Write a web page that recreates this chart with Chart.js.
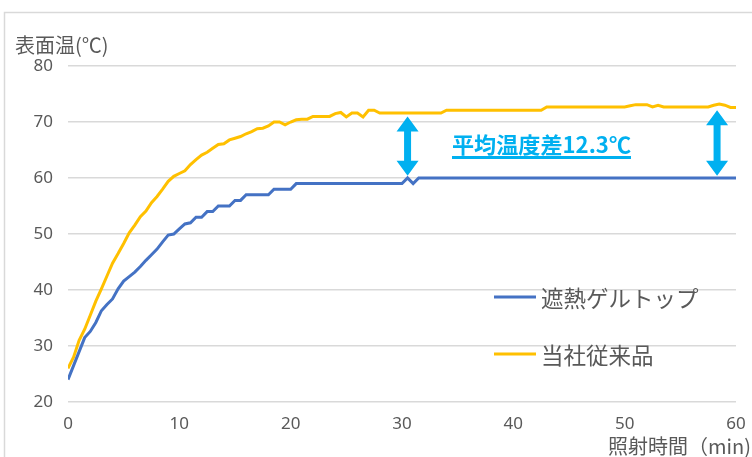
<!DOCTYPE html>
<html>
<head>
<meta charset="utf-8">
<script src="https://cdn.jsdelivr.net/npm/chart.js@4"></script>
<style>
  html, body { margin: 0; padding: 0; background: #fff; }
  #wrap { position: relative; width: 752px; height: 457px; }
</style>
</head>
<body>
<div id="wrap"><canvas id="chart" width="752" height="457"></canvas></div>
<script>
// 照射時間 (min) 0.5分刻み
const times = [
  0, 0.5, 1, 1.5, 2, 2.5, 3, 3.5, 4, 4.5,
  5, 5.5, 6, 6.5, 7, 7.5, 8, 8.5, 9, 9.5,
  10, 10.5, 11, 11.5, 12, 12.5, 13, 13.5, 14, 14.5,
  15, 15.5, 16, 16.5, 17, 17.5, 18, 18.5, 19, 19.5,
  20, 20.5, 21, 21.5, 22, 22.5, 23, 23.5, 24, 24.5,
  25, 25.5, 26, 26.5, 27, 27.5, 28, 28.5, 29, 29.5,
  30, 30.5, 31, 31.5, 32, 32.5, 33, 33.5, 34, 34.5,
  35, 35.5, 36, 36.5, 37, 37.5, 38, 38.5, 39, 39.5,
  40, 40.5, 41, 41.5, 42, 42.5, 43, 43.5, 44, 44.5,
  45, 45.5, 46, 46.5, 47, 47.5, 48, 48.5, 49, 49.5,
  50, 50.5, 51, 51.5, 52, 52.5, 53, 53.5, 54, 54.5,
  55, 55.5, 56, 56.5, 57, 57.5, 58, 58.5, 59, 59.5,
  60
];

// 遮熱ゲルトップ
const gelTop = [
  24, 26.5, 29, 31.5, 32.6, 34.2, 36.3, 37.4, 38.4, 40.2,
  41.6, 42.4, 43.2, 44.2, 45.3, 46.3, 47.3, 48.6, 49.8, 50,
  50.9, 51.8, 52, 53, 53, 54, 54, 55, 55, 55,
  56, 56, 57, 57, 57, 57, 57, 58, 58, 58,
  58, 59, 59, 59, 59, 59, 59, 59, 59, 59,
  59, 59, 59, 59, 59, 59, 59, 59, 59, 59,
  59, 60, 59, 60, 60, 60, 60, 60, 60, 60,
  60, 60, 60, 60, 60, 60, 60, 60, 60, 60,
  60, 60, 60, 60, 60, 60, 60, 60, 60, 60,
  60, 60, 60, 60, 60, 60, 60, 60, 60, 60,
  60, 60, 60, 60, 60, 60, 60, 60, 60, 60,
  60, 60, 60, 60, 60, 60, 60, 60, 60, 60,
  60
];

// 当社従来品
const conventional = [
  26, 28, 31, 33, 35.5, 38, 40.2, 42.5, 44.8, 46.5,
  48.3, 50.2, 51.6, 53.1, 54.1, 55.6, 56.7, 58, 59.4, 60.3,
  60.8, 61.3, 62.4, 63.3, 64.1, 64.6, 65.3, 66, 66.1, 66.8,
  67.1, 67.4, 67.9, 68.3, 68.8, 68.9, 69.3, 70, 70, 69.5,
  70, 70.4, 70.5, 70.5, 71, 71, 71, 71, 71.5, 71.7,
  70.9, 71.6, 71.6, 70.9, 72.1, 72.1, 71.6, 71.6, 71.6, 71.6,
  71.6, 71.6, 71.6, 71.6, 71.6, 71.6, 71.6, 71.6, 72.1, 72.1,
  72.1, 72.1, 72.1, 72.1, 72.1, 72.1, 72.1, 72.1, 72.1, 72.1,
  72.1, 72.1, 72.1, 72.1, 72.1, 72.1, 72.7, 72.7, 72.7, 72.7,
  72.7, 72.7, 72.7, 72.7, 72.7, 72.7, 72.7, 72.7, 72.7, 72.7,
  72.7, 72.9, 73.1, 73.1, 73.1, 72.7, 73, 72.7, 72.7, 72.7,
  72.7, 72.7, 72.7, 72.7, 72.7, 72.7, 73, 73.2, 73, 72.6,
  72.6
];

const seriesNames = ['遮熱ゲルトップ', '当社従来品'];
const xTicks = [0, 10, 20, 30, 40, 50, 60];
const yTicks = [20, 30, 40, 50, 60, 70, 80];

// 温度差の矢印 (時間, 上端温度, 下端温度)
const arrowTimes = [30.5, 58.3];
const arrowTops = [71.0, 72.1];
const arrowBottoms = [60.4, 60.4];
const diffLabel = '平均温度差12.3℃';

const BLUE = '#4472C4';
const ORANGE = '#FFC000';
const CYAN = '#00B0F0';
const GRAY = '#595959';
const GRID = '#d9d9d9';

function toPoints(values) {
    return times.map((t, i) => ({ x: t, y: values[i] }));
}

function drawArrow(ctx, x, yTop, yBottom) {
    const shaft = 3.5, head = 11, headLen = 15;
    ctx.beginPath();
    ctx.moveTo(x, yTop);
    ctx.lineTo(x + head, yTop + headLen);
    ctx.lineTo(x + shaft, yTop + headLen);
    ctx.lineTo(x + shaft, yBottom - headLen);
    ctx.lineTo(x + head, yBottom - headLen);
    ctx.lineTo(x, yBottom);
    ctx.lineTo(x - head, yBottom - headLen);
    ctx.lineTo(x - shaft, yBottom - headLen);
    ctx.lineTo(x - shaft, yTop + headLen);
    ctx.lineTo(x - head, yTop + headLen);
    ctx.closePath();
    ctx.fill();
}

const decorPlugin = {
    id: 'decor',
    beforeDraw(chart) {
        const ctx = chart.ctx;
        ctx.save();
        // 枠線
        ctx.strokeStyle = GRID;
        ctx.lineWidth = 1.5;
        ctx.beginPath();
        ctx.moveTo(4.5, 470);
        ctx.lineTo(4.5, 12.5);
        ctx.lineTo(760, 12.5);
        ctx.stroke();
        ctx.restore();
    },
    afterDatasetsDraw(chart) {
        const ctx = chart.ctx;
        const xs = chart.scales.x;
        const ys = chart.scales.y;
        ctx.save();

        // 軸タイトル
        ctx.fillStyle = GRAY;
        ctx.font = '20px "Noto Sans CJK JP"';
        ctx.textBaseline = 'middle';
        ctx.textAlign = 'left';
        ctx.fillText('表面温(℃)', 15, 45);
        ctx.textAlign = 'right';
        ctx.fillText('照射時間（min)', 751, 446);

        // 凡例
        const legendColors = [BLUE, ORANGE];
        const legendY = [297, 354];
        ctx.font = '22.5px "Noto Sans CJK JP"';
        ctx.textAlign = 'left';
        seriesNames.forEach((name, i) => {
            ctx.strokeStyle = legendColors[i];
            ctx.lineWidth = 3;
            ctx.beginPath();
            ctx.moveTo(494, legendY[i]);
            ctx.lineTo(536, legendY[i]);
            ctx.stroke();
            ctx.fillStyle = GRAY;
            ctx.fillText(name, 541, legendY[i] + 1);
        });

        // 温度差の矢印
        ctx.fillStyle = CYAN;
        arrowTimes.forEach((t, i) => {
            drawArrow(ctx, xs.getPixelForValue(t),
                ys.getPixelForValue(arrowTops[i]),
                ys.getPixelForValue(arrowBottoms[i]));
        });

        // 注記テキスト
        ctx.font = 'bold 22px "Noto Sans CJK JP"';
        ctx.textAlign = 'left';
        ctx.textBaseline = 'middle';
        const tx = 452, ty = 145;
        const w = ctx.measureText(diffLabel).width;
        const scale = 179 / w;
        ctx.translate(tx, ty);
        ctx.scale(scale, 1);
        ctx.fillText(diffLabel, 0, 0);
        ctx.setTransform(1, 0, 0, 1, 0, 0);
        ctx.fillRect(tx, 156, 179, 3);

        ctx.restore();
    }
};

const chart = new Chart(document.getElementById('chart'), {
    type: 'line',
    data: {
        datasets: [
            {
                label: seriesNames[0],
                data: toPoints(gelTop),
                borderColor: BLUE,
                backgroundColor: BLUE,
                borderWidth: 3,
                pointRadius: 0,
                tension: 0
            },
            {
                label: seriesNames[1],
                data: toPoints(conventional),
                borderColor: ORANGE,
                backgroundColor: ORANGE,
                borderWidth: 3,
                pointRadius: 0,
                tension: 0
            }
        ]
    },
    options: {
        responsive: false,
        animation: false,
        layout: { padding: { left: 1, right: 16, top: 66, bottom: 0 } },
        plugins: {
            legend: { display: false },
            tooltip: { enabled: false }
        },
        scales: {
            x: {
                type: 'linear',
                min: 0,
                max: 60,
                afterBuildTicks: (axis) => { axis.ticks = xTicks.map(v => ({ value: v })); },
                afterFit: (axis) => {
                    axis.height = 55;
                    axis.paddingLeft = 0;
                    axis.paddingRight = 0;
                },
                grid: { display: false, drawTicks: false },
                border: { display: false },
                ticks: {
                    color: GRAY,
                    font: { family: 'Noto Sans', size: 17 },
                    padding: 12,
                    maxRotation: 0
                }
            },
            y: {
                min: 20,
                max: 80,
                afterBuildTicks: (axis) => { axis.ticks = yTicks.map(v => ({ value: v })); },
                afterFit: (axis) => {
                    axis.width = 67;
                    axis.paddingTop = 0;
                    axis.paddingBottom = 0;
                },
                grid: { color: GRID, lineWidth: 1.5, drawTicks: false },
                border: { display: false },
                ticks: {
                    color: GRAY,
                    font: { family: 'Noto Sans', size: 17 },
                    padding: 15
                }
            }
        }
    },
    plugins: [decorPlugin]
});
</script>
</body>
</html>
